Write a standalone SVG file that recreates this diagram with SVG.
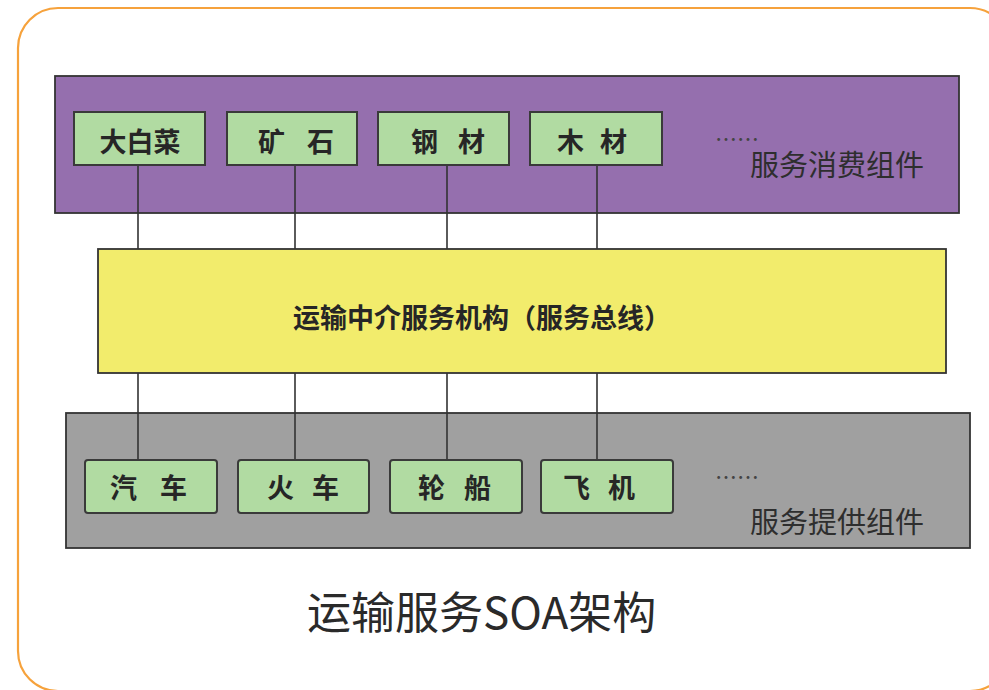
<svg xmlns="http://www.w3.org/2000/svg" width="989" height="690" viewBox="0 0 989 690">
<style>
.frame{fill:#fff;stroke:#f6a23c;stroke-width:2.2}
.panel{stroke:#333;stroke-width:1.8}
.box{fill:#b1dba2;stroke:#3a3a3a;stroke-width:2}
.lbl{font-family:"Noto Sans CJK SC","Liberation Sans",sans-serif;font-size:27px;font-weight:bold;fill:#262626;dominant-baseline:central}
.grp{font-family:"Noto Sans CJK SC","Liberation Sans",sans-serif;font-size:29px;fill:#2e2e2e;dominant-baseline:central}
.dots{font-family:"Noto Sans CJK SC","Liberation Sans",sans-serif;font-size:22px;fill:#444;dominant-baseline:central}
.conn line{stroke:#333;stroke-width:1.6}
</style>
<rect class="frame" x="18" y="8" width="992" height="683" rx="40"/>
<g id="consumers">
<rect class="panel" x="55" y="76" width="904" height="137" fill="#956fae"/>
<text class="dots" x="715" y="137">……</text>
<text class="grp" x="750" y="163">服务消费组件</text>
</g>
<g id="bus">
<rect class="panel" x="98" y="249" width="848" height="124" fill="#f2ec6c"/>
<text class="lbl" x="293" y="316" font-size="28">运输中介服务机构（服务总线）</text>
</g>
<g id="providers">
<rect class="panel" x="66" y="413" width="904" height="135" fill="#a0a0a0"/>
<text class="dots" x="715" y="475">……</text>
<text class="grp" x="750" y="520">服务提供组件</text>
</g>
<g class="conn" id="connectors">
<line x1="138" y1="165" x2="138" y2="249"/>
<line x1="295" y1="165" x2="295" y2="249"/>
<line x1="447" y1="165" x2="447" y2="249"/>
<line x1="597" y1="165" x2="597" y2="249"/>
<line x1="138" y1="373" x2="138" y2="460"/>
<line x1="295" y1="373" x2="295" y2="460"/>
<line x1="447" y1="373" x2="447" y2="460"/>
<line x1="597" y1="373" x2="597" y2="460"/>
</g>
<g id="n-dabaicai"><rect class="box" x="74" y="112" width="131" height="53"/><text class="lbl" x="140" y="140" text-anchor="middle">大白菜</text></g>
<g id="n-kuangshi"><rect class="box" x="227" y="112" width="130" height="53"/><text class="lbl" x="258 285 307" y="140">矿 石</text></g>
<g id="n-gangcai"><rect class="box" x="378" y="112" width="131" height="53"/><text class="lbl" x="411 438 458" y="140">钢 材</text></g>
<g id="n-mucai"><rect class="box" x="530" y="112" width="132" height="53"/><text class="lbl" x="557 584 600" y="140">木 材</text></g>
<g id="n-qiche"><rect class="box" x="85" y="460" width="132" height="53" rx="3"/><text class="lbl" x="110 137 160" y="486">汽 车</text></g>
<g id="n-huoche"><rect class="box" x="238" y="460" width="131" height="53" rx="3"/><text class="lbl" x="267 294 312" y="486">火 车</text></g>
<g id="n-lunchuan"><rect class="box" x="390" y="460" width="132" height="53" rx="3"/><text class="lbl" x="418 445 464" y="486">轮 船</text></g>
<g id="n-feiji"><rect class="box" x="541" y="460" width="132" height="53" rx="3"/><text class="lbl" x="563 590 608" y="486">飞 机</text></g>
<text id="title" x="307" y="610" font-family="'Noto Sans CJK SC','Liberation Sans',sans-serif" font-size="44" fill="#2a2a2a" dominant-baseline="central">运输服务SOA架构</text>
</svg>
